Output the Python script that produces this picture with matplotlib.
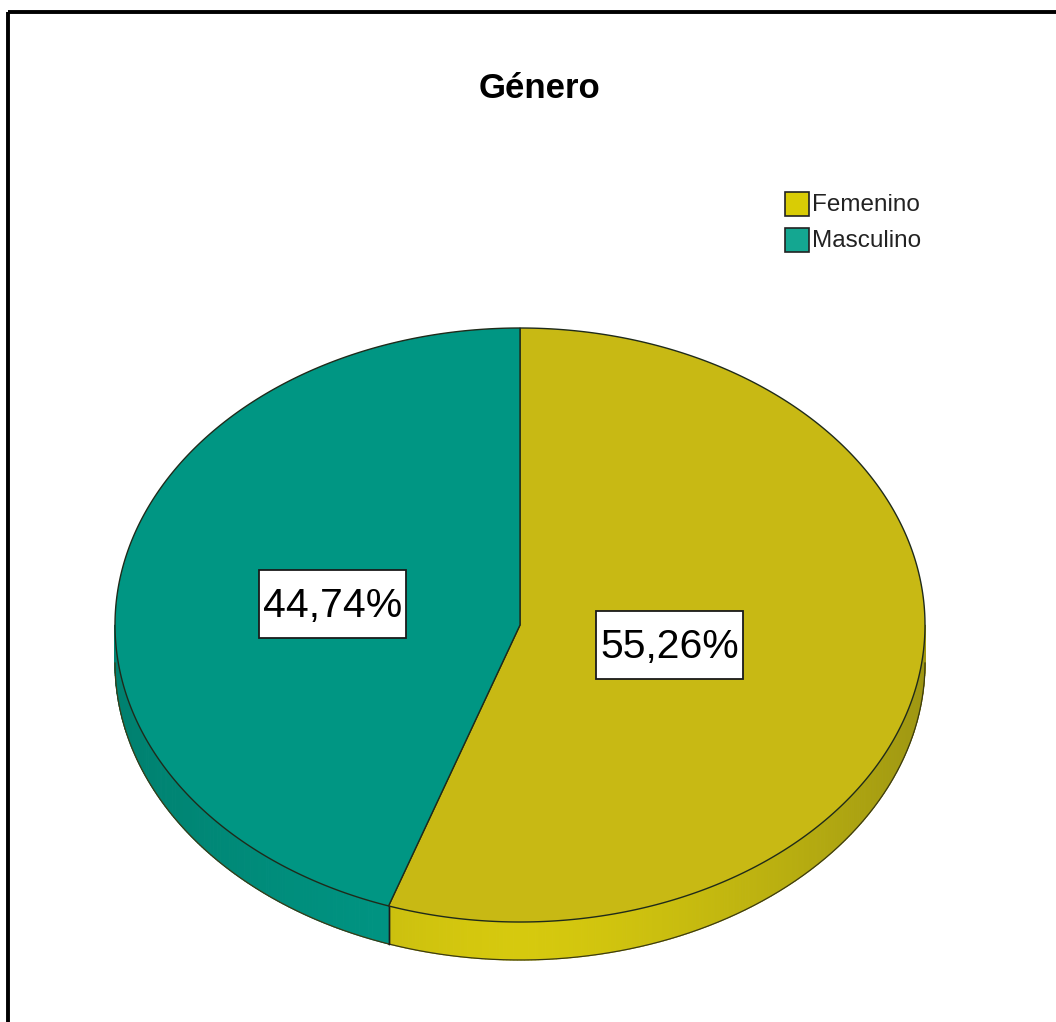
import numpy as np
import matplotlib
matplotlib.use("Agg")
import matplotlib.pyplot as plt
from matplotlib.patches import Polygon, Rectangle
from matplotlib.collections import PolyCollection
from matplotlib.colors import to_rgb

# datos
title = "Género"
labels = ["Femenino", "Masculino"]
shares = [55.26, 44.74]

# estilo
top_colors = ["#c8b914", "#009683"]
side_light = ["#d6c90e", "#009886"]
side_dark = ["#9f9712", "#00806f"]
legend_colors = ["#d9cc05", "#14a791"]
label_r = [0.375, 0.47]
BOX_W, BOX_H = 147, 68     # recuadro blanco de las etiquetas (px)

W, H = 1056, 1022
CX, CY = 520, 625          # centro de la cara superior (px)
RX, RY = 405, 297          # semiejes de la elipse
DEPTH = 38                 # grosor del disco


def edge(t_deg):
    t = np.radians(t_deg)
    return CX + RX * np.cos(t), CY - RY * np.sin(t)


def mix(c1, c2, f):
    a, b = np.array(to_rgb(c1)), np.array(to_rgb(c2))
    return tuple(a + (b - a) * f)


fig = plt.figure(figsize=(W / 100, H / 100), dpi=100)
ax = fig.add_axes([0, 0, 1, 1])
ax.set_xlim(0, W)
ax.set_ylim(H, 0)
ax.axis("off")

# ángulos de cada porción: empieza arriba y gira en sentido horario
bounds = 90 - np.concatenate([[0], np.cumsum(shares)]) * 3.6
slices = [(bounds[i + 1], bounds[i]) for i in range(len(shares))]

# costado del disco (sólo la mitad delantera)
for i, (t0, t1) in enumerate(slices):
    a0, a1 = t0 % 360, t1 % 360
    if a1 <= a0:
        a1 += 360
    lo, hi = max(a0, 180), min(a1, 360)
    if hi <= lo:
        continue
    ts = np.linspace(lo, hi, int(hi - lo) * 2 + 2)
    quads, cols = [], []
    for s0, s1 in zip(ts[:-1], ts[1:]):
        f = abs(np.cos(np.radians((s0 + s1) / 2))) ** 1.5
        x0, y0 = edge(s0)
        x1, y1 = edge(s1)
        quads.append([(x0, y0), (x1, y1), (x1, y1 + DEPTH), (x0, y0 + DEPTH)])
        cols.append(mix(side_light[i], side_dark[i], f))
    ax.add_collection(PolyCollection(quads, facecolors=cols, edgecolors=cols,
                                     linewidths=0.8, zorder=1))
    xs, ys = edge(ts)
    ax.plot(xs, ys + DEPTH, color="#3b3a14", lw=0.9, zorder=2)
    # arista vertical donde termina la porción
    for a in (lo, hi):
        if 180 < a < 360:
            x, y = edge(a)
            ax.plot([x, x], [y, y + DEPTH], color="#1c1c1c", lw=1.0, zorder=2)

# cara superior
for i, (t0, t1) in enumerate(slices):
    ts = np.linspace(t0, t1, 400)
    xs, ys = edge(ts)
    pts = np.column_stack([np.r_[CX, xs], np.r_[CY, ys]])
    ax.add_patch(Polygon(pts, closed=True, facecolor=top_colors[i],
                         edgecolor="#1f2a1a", lw=1.0, zorder=3))

# etiquetas de porcentaje
for i, (t0, t1) in enumerate(slices):
    tm = (t0 + t1) / 2
    x, y = edge(tm)
    lx = CX + (x - CX) * label_r[i]
    ly = CY + (y - CY) * label_r[i]
    ax.add_patch(Rectangle((lx - BOX_W / 2, ly - BOX_H / 2 + 2), BOX_W, BOX_H,
                           facecolor="white", edgecolor="#1a1a1a", lw=1.3, zorder=5))
    ax.text(lx, ly + 4, f"{shares[i]:.2f}%".replace(".", ","), fontsize=29.5,
            family=["Liberation Sans", "DejaVu Sans"], ha="center", va="center",
            zorder=6)

# título
ax.text(539, 88, title, fontsize=25, fontweight="bold",
        family=["Liberation Sans", "DejaVu Sans"], ha="center", va="center")

# leyenda
for i, lab in enumerate(labels):
    y = 204 + i * 36
    ax.add_patch(Rectangle((785, y - 12), 24, 24, facecolor=legend_colors[i],
                           edgecolor="#222222", lw=1.2, zorder=4))
    ax.text(812, y + 1, lab, fontsize=17.5, ha="left", va="center",
            family=["Liberation Sans", "DejaVu Sans"], color="#222222")

# marco
ax.plot([8, W], [12, 12], color="black", lw=2.8, solid_capstyle="butt")
ax.plot([8, 8], [12, H], color="black", lw=2.8, solid_capstyle="butt")

fig.savefig("out.png", dpi=100)
